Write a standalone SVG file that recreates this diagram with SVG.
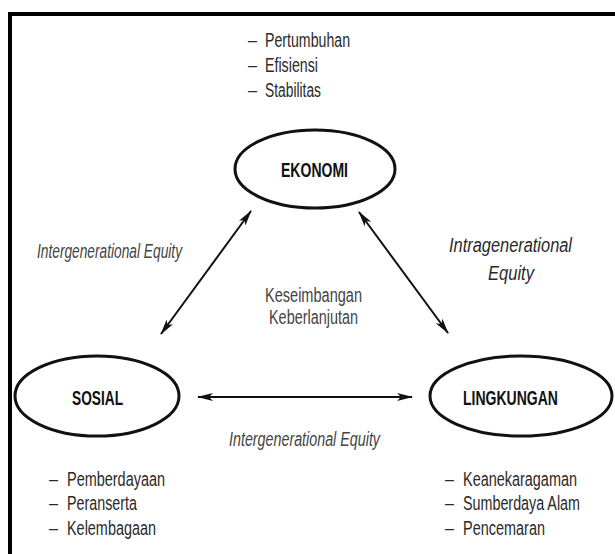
<svg xmlns="http://www.w3.org/2000/svg" width="615" height="554" viewBox="0 0 615 554">
<style>
.t{font-family:"Liberation Sans",Arial,sans-serif;font-size:19.5px;fill:#2a2a2a}
.b{font-weight:bold;fill:#111}
.i{font-style:italic}
.g{fill:#444}
.node{fill:#fff;stroke:#111;stroke-width:3}
.c{stroke:#111;stroke-width:2;fill:none}
</style>
<defs>
<marker id="ah" viewBox="0 0 16 8" refX="15" refY="4" markerWidth="16" markerHeight="8" markerUnits="userSpaceOnUse" orient="auto-start-reverse">
<path d="M0,0 L16,4 L0,8 L4,4 Z" fill="#111"/>
</marker>
</defs>
<rect width="615" height="554" fill="#fff"/>
<path d="M10,560 V14 H620" fill="none" stroke="#000" stroke-width="4"/>
<g id="connectors">
<line class="c" x1="251" y1="211" x2="161" y2="334" marker-start="url(#ah)" marker-end="url(#ah)"/>
<line class="c" x1="359" y1="212" x2="448" y2="333" marker-start="url(#ah)" marker-end="url(#ah)"/>
<line class="c" x1="198" y1="397" x2="412" y2="397" stroke-width="3" marker-start="url(#ah)" marker-end="url(#ah)"/>
</g>
<g id="ekonomi">
<ellipse class="node" cx="315" cy="169" rx="80" ry="39"/>
<text class="t b" x="281" y="177" textLength="67" lengthAdjust="spacingAndGlyphs">EKONOMI</text>
</g>
<g id="sosial">
<ellipse class="node" cx="97" cy="396" rx="82" ry="40"/>
<text class="t b" x="72" y="405" textLength="51" lengthAdjust="spacingAndGlyphs">SOSIAL</text>
</g>
<g id="lingkungan">
<ellipse class="node" cx="521" cy="396" rx="91" ry="40"/>
<text class="t b" x="463" y="405" textLength="95" lengthAdjust="spacingAndGlyphs">LINGKUNGAN</text>
</g>
<g id="labels">
<text class="t" x="248" y="47" textLength="9" lengthAdjust="spacingAndGlyphs">–</text>
<text class="t" x="265" y="47" textLength="85" lengthAdjust="spacingAndGlyphs">Pertumbuhan</text>
<text class="t" x="248" y="72" textLength="9" lengthAdjust="spacingAndGlyphs">–</text>
<text class="t" x="265" y="72" textLength="53" lengthAdjust="spacingAndGlyphs">Efisiensi</text>
<text class="t" x="248" y="97" textLength="9" lengthAdjust="spacingAndGlyphs">–</text>
<text class="t" x="265" y="97" textLength="56" lengthAdjust="spacingAndGlyphs">Stabilitas</text>
<text class="t i g" x="37" y="258" textLength="145" lengthAdjust="spacingAndGlyphs">Intergenerational Equity</text>
<text class="t i" x="449" y="252" textLength="123" lengthAdjust="spacingAndGlyphs">Intragenerational</text>
<text class="t i" x="488" y="280" textLength="46" lengthAdjust="spacingAndGlyphs">Equity</text>
<text class="t g" x="265" y="302" textLength="97" lengthAdjust="spacingAndGlyphs">Keseimbangan</text>
<text class="t g" x="269" y="324" textLength="89" lengthAdjust="spacingAndGlyphs">Keberlanjutan</text>
<text class="t i g" x="229" y="446" textLength="151" lengthAdjust="spacingAndGlyphs">Intergenerational Equity</text>
<text class="t" x="49" y="486" textLength="9" lengthAdjust="spacingAndGlyphs">–</text>
<text class="t" x="67" y="486" textLength="98" lengthAdjust="spacingAndGlyphs">Pemberdayaan</text>
<text class="t" x="49" y="510" textLength="9" lengthAdjust="spacingAndGlyphs">–</text>
<text class="t" x="67" y="510" textLength="70" lengthAdjust="spacingAndGlyphs">Peranserta</text>
<text class="t" x="49" y="535" textLength="9" lengthAdjust="spacingAndGlyphs">–</text>
<text class="t" x="67" y="535" textLength="89" lengthAdjust="spacingAndGlyphs">Kelembagaan</text>
<text class="t" x="445" y="486" textLength="9" lengthAdjust="spacingAndGlyphs">–</text>
<text class="t" x="463" y="486" textLength="114" lengthAdjust="spacingAndGlyphs">Keanekaragaman</text>
<text class="t" x="445" y="510" textLength="9" lengthAdjust="spacingAndGlyphs">–</text>
<text class="t" x="463" y="510" textLength="117" lengthAdjust="spacingAndGlyphs">Sumberdaya Alam</text>
<text class="t" x="445" y="535" textLength="9" lengthAdjust="spacingAndGlyphs">–</text>
<text class="t" x="463" y="535" textLength="82" lengthAdjust="spacingAndGlyphs">Pencemaran</text>
</g>
</svg>
